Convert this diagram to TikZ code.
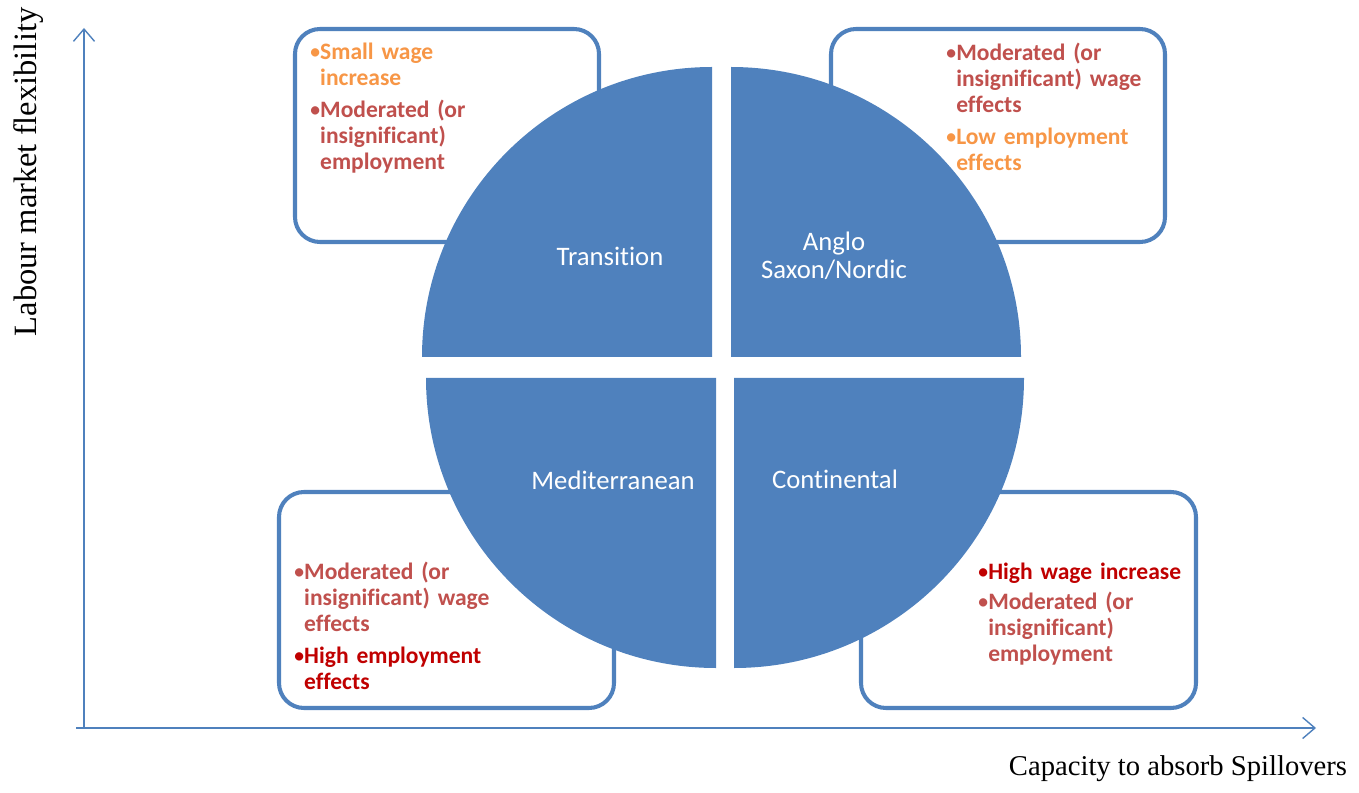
\documentclass[tikz,border=0pt]{standalone}
\usepackage{fontspec}
\setmainfont{Liberation Serif}
\newfontfamily\calibri[Ligatures=NoCommon]{Carlito}
\usetikzlibrary{arrows.meta}

\definecolor{quadblue}{HTML}{4F81BD}
\definecolor{softorange}{HTML}{F79646}
\definecolor{brickred}{HTML}{C0504D}
\definecolor{deepred}{HTML}{C00000}

% one bullet point, lines after the first hang under the text
\newcommand\bitem[2]{\par\noindent{\color{#1}%
  \makebox[6.2pt][l]{\mdseries•}\begin{tabular}[t]{@{}l@{}}#2\end{tabular}}}

\tikzset{
  quad/.style={fill=quadblue},
  panel/.style={draw=quadblue, line width=2.3pt, fill=white, rounded corners=0.5cm},
  axis/.style={draw=quadblue, line width=0.8pt, -{Straight Barb[length=7pt,width=12pt]}},
  sector/.style={text=white, align=center, font=\calibri\fontsize{15.2}{15.8}\selectfont},
  effects/.style={inner sep=0pt, anchor=north west, text width=4.8cm, align=left,
    font=\calibri\bfseries\fontsize{13.4}{14.7}\selectfont},
  axislabel/.style={font=\fontsize{16.3}{19}\selectfont}
}

\begin{document}
\begin{tikzpicture}[x=0.02cm, y=0.02cm]
  \useasboundingbox (0,0) rectangle (1359,792);

  % axes
  \coordinate (origin) at (84,64);
  \coordinate (xstart) at (76,64);
  \coordinate (xend) at (1316,64);
  \coordinate (yend) at (84,764);
  \draw[axis] (xstart) -- (xend);
  \draw[axis] (origin) -- (yend);
  \node[axislabel, font=\fontsize{18.5}{20}\selectfont, rotate=90] (ylab) at (29,620) {Labour market flexibility};
  \node[axislabel] (xlab) at (1178,23) {Capacity to absorb Spillovers};

  % panels behind the circle
  \draw[panel] (295,550) rectangle (599,763);
  \draw[panel] (831,550) rectangle (1165,763);
  \draw[panel] (279,84) rectangle (614,300);
  \draw[panel] (861,84) rectangle (1196,300);

  % four quarters of the circle
  \fill[quad] (712,435) -- ++(-290,0) arc[start angle=180, end angle=90, radius=290] -- cycle;
  \fill[quad] (731,435) -- ++(0,290) arc[start angle=90, end angle=0, radius=290] -- cycle;
  \fill[quad] (716,414) -- ++(-290,0) arc[start angle=180, end angle=270, radius=290] -- cycle;
  \fill[quad] (734,414) -- ++(0,-290) arc[start angle=270, end angle=360, radius=290] -- cycle;

  \node[sector] (trans) at (610,536) {Transition};
  \node[sector] (anglo) at (834,536) {Anglo\\Saxon/Nordic};
  \node[sector] (medit) at (613,312) {Mediterranean};
  \node[sector] (conti) at (835,313) {Continental};

  % effects in each panel
  \node[effects] (transfx) at (309,763) {\setlength\parskip{2.5pt}%
    \bitem{softorange}{Small wage\\increase}
    \bitem{brickred}{Moderated (or\\insignificant)\\employment}};
  \node[effects] (anglofx) at (945,762) {\setlength\parskip{2.5pt}%
    \bitem{brickred}{Moderated (or\\insignificant) wage\\effects}
    \bitem{softorange}{Low employment\\effects}};
  \node[effects] (meditfx) at (293,243) {\setlength\parskip{2.5pt}%
    \bitem{brickred}{Moderated (or\\insignificant) wage\\effects}
    \bitem{deepred}{High employment\\effects}};
  \node[effects] (contifx) at (977,243) {\setlength\parskip{2.5pt}%
    \bitem{deepred}{High wage increase}
    \bitem{brickred}{Moderated (or\\insignificant)\\employment}};
\end{tikzpicture}
\end{document}
